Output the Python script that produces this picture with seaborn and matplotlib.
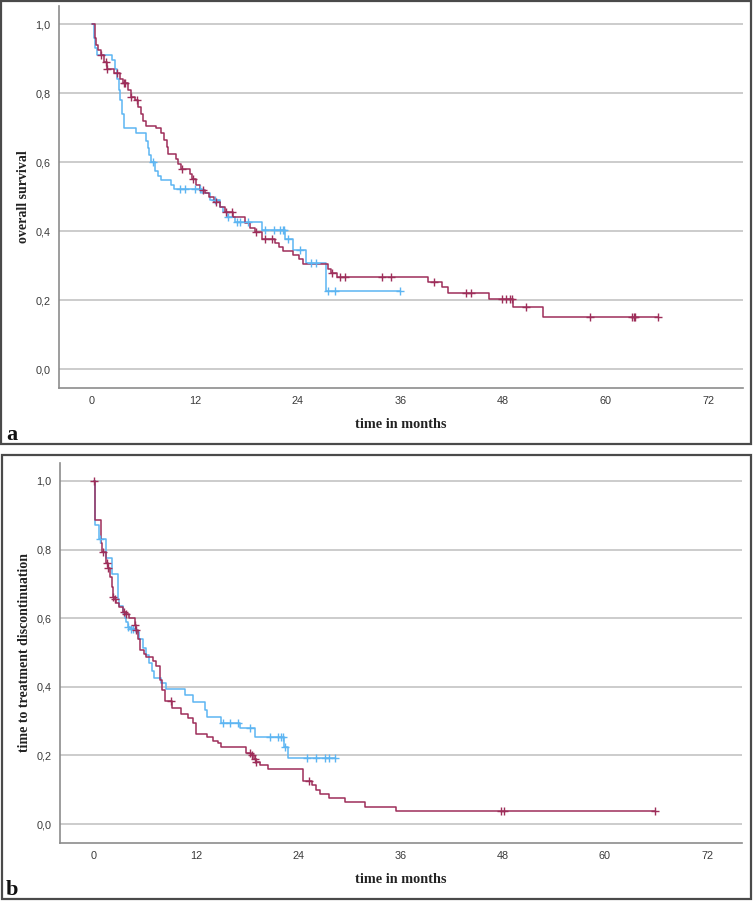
import numpy as np
import pandas as pd
import matplotlib
matplotlib.use("Agg")
import matplotlib.pyplot as plt
from matplotlib.patches import Rectangle
import seaborn as sns

RED = '#9E2E5A'
BLUE = '#5DB5F2'

# panel a: overall survival
a_red_t = [0, 0.3, 0.5, 0.7, 1.0, 1.4, 1.7, 2.6, 3.3, 3.6, 4.2, 4.5, 5.0, 5.4, 5.7, 6.0, 6.3,
           7.5, 8.1, 8.4, 8.7, 8.9, 9.8, 10.1, 10.4, 11.4, 11.7, 12.1, 12.6, 13.2, 13.7, 14.2,
           14.9, 15.5, 16.5, 17.9, 18.4, 19.0, 19.8, 21.4, 21.8, 22.3, 23.5, 24.2, 24.6, 27.6,
           27.9, 28.6, 39.2, 40.9, 41.6, 46.4, 49.2, 52.6]
a_red_s = [1.0, 0.96, 0.94, 0.925, 0.91, 0.89, 0.87, 0.86, 0.84, 0.83, 0.81, 0.79, 0.78, 0.76,
           0.74, 0.72, 0.705, 0.70, 0.685, 0.665, 0.645, 0.625, 0.61, 0.595, 0.58, 0.565, 0.55,
           0.535, 0.52, 0.51, 0.50, 0.485, 0.47, 0.456, 0.44, 0.425, 0.41, 0.397, 0.376, 0.365,
           0.355, 0.343, 0.331, 0.319, 0.305, 0.29, 0.278, 0.266, 0.252, 0.237, 0.221, 0.204,
           0.179, 0.150]
a_red_cens = [1.1, 1.6, 1.8, 2.9, 3.7, 3.9, 4.6, 5.2, 10.5, 11.8, 13.0, 14.5, 15.7, 16.3, 19.2,
              20.2, 21.0, 28.0, 28.9, 29.5, 33.8, 34.9, 39.9, 43.7, 44.3, 47.9, 48.3, 48.8, 49.0,
              50.7, 58.1, 63.0, 63.3, 63.4, 66.1]

a_blue_t = [0, 0.2, 0.4, 0.6, 2.3, 2.7, 2.9, 3.1, 3.3, 3.5, 3.7, 5.1, 6.3, 6.5, 6.7, 6.85, 7.4,
            7.7, 8.1, 9.2, 9.6, 12.8, 13.8, 14.9, 15.3, 15.8, 16.7, 19.8, 22.5, 23.5, 25.0, 27.3]
a_blue_s = [1.0, 0.96, 0.93, 0.91, 0.896, 0.87, 0.84, 0.81, 0.78, 0.74, 0.70, 0.684, 0.66, 0.64,
            0.62, 0.60, 0.575, 0.56, 0.548, 0.534, 0.521, 0.51, 0.49, 0.47, 0.456, 0.442, 0.427,
            0.404, 0.376, 0.345, 0.307, 0.227]
a_blue_cens = [7.1, 10.3, 10.9, 12.0, 12.6, 14.35, 15.9, 16.9, 17.3, 18.2, 20.2, 21.2, 21.9,
               22.25, 22.4, 22.9, 24.3, 25.6, 26.2, 27.5, 28.4, 35.9]

# panel b: time to treatment discontinuation
b_red_t = [0, 0.15, 0.85, 1.0, 1.4, 1.5, 1.65, 1.9, 2.1, 2.25, 2.45, 2.6, 3.0, 3.5, 3.75, 4.2,
           4.8, 4.95, 5.2, 5.4, 5.9, 6.2, 7.0, 7.3, 7.8, 8.0, 8.4, 9.2, 10.3, 11.1, 11.7, 12.0,
           13.3, 14.0, 14.6, 15.0, 17.9, 18.5, 18.8, 19.0, 19.5, 20.5, 24.6, 25.6, 26.1, 26.6,
           27.6, 29.5, 31.9, 35.5]
b_red_s = [1.0, 0.886, 0.82, 0.794, 0.775, 0.76, 0.745, 0.72, 0.69, 0.663, 0.656, 0.645, 0.632,
           0.619, 0.612, 0.60, 0.58, 0.566, 0.54, 0.507, 0.495, 0.488, 0.475, 0.46, 0.42, 0.39,
           0.36, 0.337, 0.32, 0.308, 0.294, 0.262, 0.253, 0.243, 0.236, 0.226, 0.208, 0.20, 0.19,
           0.18, 0.172, 0.16, 0.126, 0.114, 0.100, 0.088, 0.075, 0.064, 0.05, 0.037]
b_red_cens = [0.05, 1.1, 1.55, 1.7, 2.3, 2.5, 3.55, 3.8, 4.9, 5.0, 9.1, 18.3, 18.6, 18.9, 19.1,
              25.3, 47.8, 48.2, 65.9]

b_blue_t = [0, 0.1, 0.65, 1.45, 2.2, 2.8, 2.9, 3.0, 3.4, 3.7, 3.8, 4.0, 4.3, 5.0, 5.35, 5.75,
            6.2, 6.5, 6.8, 7.1, 7.85, 8.55, 10.7, 11.7, 13.05, 13.3, 15.0, 17.2, 18.9, 22.3, 22.8]
b_blue_s = [1.0, 0.872, 0.83, 0.775, 0.729, 0.69, 0.655, 0.636, 0.615, 0.60, 0.588, 0.575, 0.568,
            0.56, 0.54, 0.512, 0.493, 0.468, 0.445, 0.425, 0.41, 0.393, 0.376, 0.357, 0.332,
            0.311, 0.294, 0.279, 0.255, 0.225, 0.193]
b_blue_cens = [0.74, 4.05, 4.4, 4.6, 15.2, 16.0, 17.0, 18.3, 20.7, 21.6, 22.0, 22.2, 22.5, 25.0,
               26.1, 27.1, 27.6, 28.3]

x_ticks = [0, 12, 24, 36, 48, 60, 72]
y_ticks = [0.0, 0.2, 0.4, 0.6, 0.8, 1.0]
y_ticklabels = ['0,0', '0,2', '0,4', '0,6', '0,8', '1,0']

sns.set_style("white")
plt.rcParams['font.family'] = ['Liberation Sans', 'DejaVu Sans']

fig = plt.figure(figsize=(7.55, 9.01), dpi=100)


def km_curve(ax, times, surv, cens, color):
    t = np.array(times)
    s = np.array(surv)
    end = max(cens[-1], t[-1])
    line = pd.DataFrame({'t': np.append(t, end), 's': np.append(s, s[-1])})
    sns.lineplot(data=line, x='t', y='s', ax=ax, color=color, lw=1.1,
                 drawstyle='steps-post', estimator=None, sort=False)
    idx = np.searchsorted(t, cens, side='right') - 1
    marks = pd.DataFrame({'t': cens, 's': s[idx]})
    sns.scatterplot(data=marks, x='t', y='s', ax=ax, color=color, marker='+',
                    s=40, linewidth=1.0, zorder=4)


def style_axes(ax, ylabel, ylim, xlim):
    ax.set_xlim(*xlim)
    ax.set_ylim(*ylim)
    ax.set_xticks(x_ticks)
    ax.set_yticks(y_ticks)
    ax.set_yticklabels(y_ticklabels)
    ax.grid(axis='y', color='#C8C8C8', lw=1.3)
    ax.set_axisbelow(True)
    for side in ['top', 'right']:
        ax.spines[side].set_visible(False)
    for side in ['left', 'bottom']:
        ax.spines[side].set_color('#8C8C8C')
        ax.spines[side].set_linewidth(1.2)
    ax.tick_params(length=0, labelsize=7.8, labelcolor='#3A3A3A', pad=6)
    ax.set_xlabel('time in months', family='Liberation Serif', fontweight='bold',
                  fontsize=10.3, color='#222222')
    ax.xaxis.set_label_coords(0.5, -0.078)
    ax.set_ylabel(ylabel, family='Liberation Serif', fontweight='bold',
                  fontsize=10, color='#222222')
    ax.yaxis.set_label_coords(-0.043, 0.5)


ax_a = fig.add_axes([59 / 755, 1 - 388 / 901, 684 / 755, 382 / 901])
km_curve(ax_a, a_blue_t, a_blue_s, a_blue_cens, BLUE)
km_curve(ax_a, a_red_t, a_red_s, a_red_cens, RED)
style_axes(ax_a, 'overall survival', (-0.055, 1.053), (-3.85, 76.0))

ax_b = fig.add_axes([60 / 755, 1 - 843 / 901, 682 / 755, 380 / 901])
km_curve(ax_b, b_blue_t, b_blue_s, b_blue_cens, BLUE)
km_curve(ax_b, b_red_t, b_red_s, b_red_cens, RED)
style_axes(ax_b, 'time to treatment discontinuation', (-0.055, 1.052), (-3.95, 76.1))

# panel frames and letters
for (x0, y0, x1, y1) in [(1, 1, 751, 444), (2, 455, 751, 899)]:
    fig.patches.append(Rectangle((x0 / 755, 1 - y1 / 901), (x1 - x0) / 755, (y1 - y0) / 901,
                                 transform=fig.transFigure, fill=False,
                                 edgecolor='#4A4A4A', lw=1.6))
fig.text(6 / 755, 1 - 440 / 901, 'a', family='Liberation Serif', fontweight='bold',
         fontsize=16, color='#111111')
fig.text(6 / 755, 1 - 895 / 901, 'b', family='Liberation Serif', fontweight='bold',
         fontsize=16, color='#111111')

fig.savefig('out.png', dpi=100)
